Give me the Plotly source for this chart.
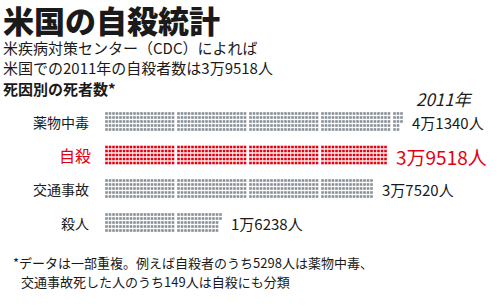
import plotly.graph_objects as go

# ---- data ----
categories = ["薬物中毒", "自殺", "交通事故", "殺人"]
values = [41340, 39518, 37520, 16238]
value_labels = ["4万1340人", "3万9518人", "3万7520人", "1万6238人"]
highlight = [False, True, False, False]
year_label = "2011年"
title = "米国の自殺統計"
subtitle_lines = ["米疾病対策センター（CDC）によれば", "米国での2011年の自殺者数は3万9518人"]
section_label = "死因別の死者数*"
footnote_lines = ["*データは一部重複。例えば自殺者のうち5298人は薬物中毒、",
                  "交通事故死した人のうち149人は自殺にも分類"]

PER_DOT = 100
ROWS = 5
COLS_PER_GROUP = 20

# ---- layout constants (pixel coordinates) ----
X0 = 106.5
COL_PITCH = 3.5
GROUP_PITCH = 72
ROW_PITCH = 4
ROW_CENTERS = [121.5, 155, 188.5, 222.5]

GRAY = "#878f97"
RED = "#e3000f"
TEXT = "#1a1a1a"
FONT = "Noto Sans CJK JP"

fig = go.Figure()
annotations = []


def ann(**kw):
    d = dict(showarrow=False, borderpad=0, borderwidth=0)
    d.update(kw)
    annotations.append(d)


for i, (cat, val) in enumerate(zip(categories, values)):
    n = round(val / PER_DOT)
    xs, ys = [], []
    for k in range(n):
        g = k // (ROWS * COLS_PER_GROUP)
        r = k % (ROWS * COLS_PER_GROUP)
        col = r // ROWS
        row = r % ROWS
        xs.append(X0 + g * GROUP_PITCH + col * COL_PITCH)
        ys.append(ROW_CENTERS[i] + (row - 2) * ROW_PITCH)
    color = RED if highlight[i] else GRAY
    fig.add_trace(go.Scatter(
        x=xs, y=ys, mode="markers",
        marker=dict(symbol="square", size=2.6, color=color, line=dict(width=0)),
        hoverinfo="skip", showlegend=False))
    end_x = max(xs) + COL_PITCH / 2
    ann(x=91 if highlight[i] else 89, y=ROW_CENTERS[i], text=cat,
        xanchor="right", yanchor="middle",
        font=dict(family=FONT, size=16 if highlight[i] else 14,
                  color=RED if highlight[i] else TEXT))
    ann(x=end_x + 9, y=ROW_CENTERS[i] + 1, text=value_labels[i],
        xanchor="left", yanchor="middle",
        font=dict(family=FONT, size=19 if highlight[i] else 15,
                  color=RED if highlight[i] else TEXT))

ann(x=3, y=19, text=title, xanchor="left", yanchor="middle",
    font=dict(family=FONT, size=31, color=TEXT, weight=900))
ann(x=3, y=57, text="<br>".join(subtitle_lines), xanchor="left", yanchor="middle", align="left",
    font=dict(family=FONT, size=15, color=TEXT))
ann(x=3, y=88, text=section_label, xanchor="left", yanchor="middle",
    font=dict(family=FONT, size=15, color=TEXT, weight=700))
ann(x=416, y=98, text="<i>" + year_label + "</i>", xanchor="left", yanchor="middle",
    font=dict(family=FONT, size=17, color=TEXT))
ann(x=13, y=262, text=footnote_lines[0], xanchor="left", yanchor="middle",
    font=dict(family=FONT, size=13, color=TEXT))
ann(x=21, y=281, text=footnote_lines[1], xanchor="left", yanchor="middle",
    font=dict(family=FONT, size=13, color=TEXT))

fig.update_layout(
    width=500, height=307,
    margin=dict(l=0, r=0, t=0, b=0),
    paper_bgcolor="white", plot_bgcolor="white",
    xaxis=dict(range=[0, 500], visible=False, fixedrange=True),
    yaxis=dict(range=[307, 0], visible=False, fixedrange=True),
    annotations=annotations,
)

fig.write_html("out.html")
